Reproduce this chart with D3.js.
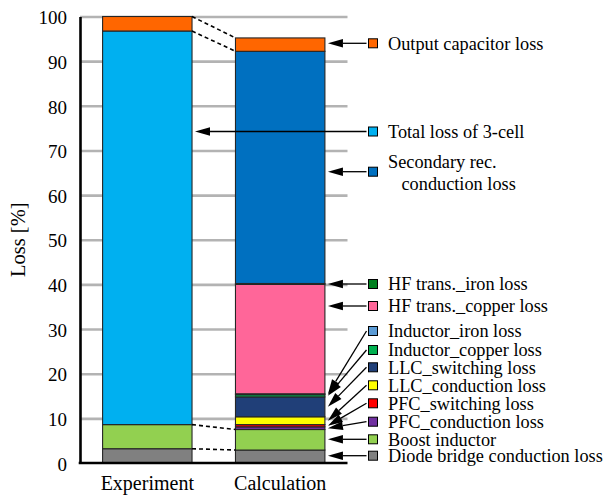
<!DOCTYPE html>
<html>
<head>
<meta charset="utf-8">
<script src="https://cdn.jsdelivr.net/npm/d3@7"></script>
<style>
  html, body { margin: 0; padding: 0; background: #fff; }
  svg text { font-family: "Liberation Serif", "Times New Roman", serif; }
</style>
</head>
<body>
<svg id="chart" width="609" height="495"></svg>
<script>
const FONT = "Liberation Serif, Times New Roman, serif";

// Bars
const categories = ["Experiment", "Calculation"];

// Loss components, listed bottom of the stack to top
const seriesNames = [
  "Diode bridge conduction loss",
  "Boost inductor",
  "PFC_conduction loss",
  "PFC_switching loss",
  "LLC_conduction loss",
  "LLC_switching loss",
  "Inductor_copper loss",
  "Inductor_iron loss",
  "HF trans._copper loss",
  "HF trans._iron loss",
  "Secondary rec. conduction loss",
  "Total loss of 3-cell",
  "Output capacitor loss"
];
const experimentValues  = [3.2, 5.4, 0, 0, 0, 0, 0, 0, 0, 0, 0, 88.15, 3.25];
const calculationValues = [2.9, 4.6, 0.6, 0.5, 1.75, 4.45, 0.5, 0.2, 24.5, 0.2, 52.0, 0, 3.0];
const seriesColors = [
  "#808080", "#92d050", "#7030a0", "#ff0000", "#ffff00", "#203f78",
  "#00b050", "#5b9bd5", "#ff6699", "#00801f", "#0070c0", "#00b0f0", "#ff6600"
];

// Legend, top to bottom
const legendOrder = [
  "Output capacitor loss",
  "Total loss of 3-cell",
  "Secondary rec. conduction loss",
  "HF trans._iron loss",
  "HF trans._copper loss",
  "Inductor_iron loss",
  "Inductor_copper loss",
  "LLC_switching loss",
  "LLC_conduction loss",
  "PFC_switching loss",
  "PFC_conduction loss",
  "Boost inductor",
  "Diode bridge conduction loss"
];
const legendLines = {
  "Secondary rec. conduction loss": ["Secondary rec.", "conduction loss"]
};
const legendY = [43.3, 131.5, 171.7, 284, 306, 331, 350, 367.3, 385.3, 403.3, 421.7, 439.3, 455.7];

// Dashed links between matching stack boundaries of the two bars
const linkFrom = ["Output capacitor loss", "Total loss of 3-cell", "Boost inductor", "Diode bridge conduction loss"];
const linkTo   = ["Output capacitor loss", "Secondary rec. conduction loss", "Boost inductor", "Diode bridge conduction loss"];

const yTicks = [0, 10, 20, 30, 40, 50, 60, 70, 80, 90, 100];

const svg = d3.select("#chart");

const x = d3.scaleBand().domain(categories).range([80, 347.5])
  .paddingInner(0.327).paddingOuter(0.17);
const y = d3.scaleLinear().domain([0, 100]).range([463, 16.5]);

// table for the stack layout
const rows = categories.map((c, i) => {
  const r = { category: c };
  seriesNames.forEach((s, j) => { r[s] = (i === 0 ? experimentValues : calculationValues)[j]; });
  return r;
});
const stacked = d3.stack().keys(seriesNames)(rows);
const color = d3.scaleOrdinal().domain(seriesNames).range(seriesColors);
const seg = (name, cat) => stacked[seriesNames.indexOf(name)][categories.indexOf(cat)];

// gridlines
svg.append("g")
  .attr("transform", "translate(80,0)")
  .call(d3.axisRight(y).tickValues(yTicks.filter(t => t > 0)).tickSize(267.5).tickFormat(""))
  .call(g => g.select(".domain").remove())
  .call(g => g.selectAll("line").attr("stroke", "#b3b3b3").attr("stroke-width", 2.6));

// stacked bars
const layers = svg.append("g").selectAll("g").data(stacked).join("g")
  .attr("fill", d => color(d.key));
layers.selectAll("rect")
  .data(d => d.filter(p => p[1] - p[0] > 0).map(p => ({ p, cat: p.data.category })))
  .join("rect")
  .attr("x", d => x(d.cat))
  .attr("width", x.bandwidth())
  .attr("y", d => y(d.p[1]))
  .attr("height", d => y(d.p[0]) - y(d.p[1]))
  .attr("stroke", "#262626")
  .attr("stroke-width", 1.1);

// dashed links
svg.append("g").selectAll("line").data(linkFrom.map((f, i) => [f, linkTo[i]])).join("line")
  .attr("x1", x(categories[0]) + x.bandwidth())
  .attr("y1", d => y(seg(d[0], categories[0])[1]))
  .attr("x2", x(categories[1]))
  .attr("y2", d => y(seg(d[1], categories[1])[1]))
  .attr("stroke", "#000")
  .attr("stroke-width", 1.6)
  .attr("stroke-dasharray", "4,3");

// axes
const yAxis = svg.append("g")
  .attr("transform", "translate(80,0)")
  .call(d3.axisLeft(y).tickValues(yTicks).tickSize(0).tickPadding(13))
  .attr("font-family", FONT)
  .call(g => g.select(".domain").attr("stroke", "#000").attr("stroke-width", 2.6));
yAxis.selectAll("text")
  .attr("font-family", FONT)
  .attr("font-size", 19).attr("fill", "#000").attr("dy", "0.38em");

svg.append("line")
  .attr("x1", 78.7).attr("x2", 347.5)
  .attr("y1", y(0)).attr("y2", y(0))
  .attr("stroke", "#000").attr("stroke-width", 2.6);

svg.append("g").selectAll("text").data(categories).join("text")
  .attr("x", d => x(d) + x.bandwidth() / 2)
  .attr("y", 490)
  .attr("text-anchor", "middle")
  .attr("font-family", FONT)
  .attr("font-size", 20)
  .text(d => d);

svg.append("text")
  .attr("transform", `translate(25,${(y(0) + y(100)) / 2}) rotate(-90)`)
  .attr("text-anchor", "middle")
  .attr("font-family", FONT)
  .attr("font-size", 20.5)
  .text("Loss [%]");

// legend with arrows to the segments
const legend = svg.append("g").attr("font-family", FONT);
const arrowLen = 15, arrowHalf = 4.3;
legendOrder.forEach((name, i) => {
  const ly = legendY[i];
  const cat = name === "Total loss of 3-cell" ? categories[0] : categories[1];
  const s = seg(name, cat);
  const top = y(s[1]), bot = y(s[0]);
  const edge = x(cat) + x.bandwidth();

  // level arrow when the entry sits beside its segment, otherwise aim at the segment's middle
  const inside = ly >= top - 1 && ly <= bot + 1;
  const tipX = edge + 3;
  const tipY = inside ? ly : (top + bot) / 2;
  const sx = 366.5, sy = ly;
  const ang = Math.atan2(tipY - sy, tipX - sx);
  const bx = tipX - arrowLen * Math.cos(ang), by = tipY - arrowLen * Math.sin(ang);
  legend.append("line")
    .attr("x1", sx).attr("y1", sy).attr("x2", bx).attr("y2", by)
    .attr("stroke", "#000").attr("stroke-width", 1.3);
  legend.append("path")
    .attr("d", d3.line()([
      [tipX, tipY],
      [bx + arrowHalf * Math.sin(ang), by - arrowHalf * Math.cos(ang)],
      [bx - arrowHalf * Math.sin(ang), by + arrowHalf * Math.cos(ang)]
    ]) + "Z")
    .attr("fill", "#000");

  legend.append("rect")
    .attr("x", 368.5).attr("y", ly - 4.5)
    .attr("width", 9).attr("height", 9)
    .attr("fill", color(name))
    .attr("stroke", "#000").attr("stroke-width", 1);

  const lines = legendLines[name];
  if (lines) {
    legend.append("text").attr("x", 388).attr("y", ly - 10).attr("dy", "0.35em")
      .attr("font-size", 18.3).text(lines[0]);
    legend.append("text").attr("x", 401.5).attr("y", ly + 11.6).attr("dy", "0.35em")
      .attr("font-size", 18.3).text(lines[1]);
  } else {
    legend.append("text").attr("x", 388).attr("y", ly).attr("dy", "0.35em")
      .attr("font-size", 18.3).text(name);
  }
});
</script>
</body>
</html>
